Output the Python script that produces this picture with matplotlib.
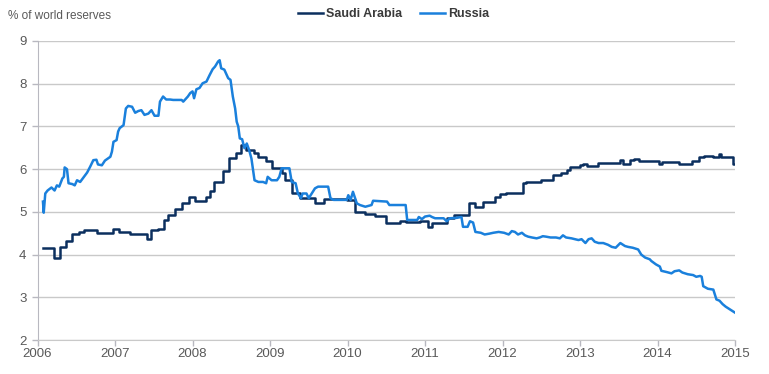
import numpy as np
import matplotlib
matplotlib.use('Agg')
import matplotlib.pyplot as plt

plt.rcParams['font.family'] = ['Liberation Sans', 'DejaVu Sans']

# Saudi Arabia, step changes (decimal year, % of world reserves)
saudi_t = [2006.07, 2006.21, 2006.29, 2006.37, 2006.45, 2006.53, 2006.60, 2006.77,
           2006.97, 2007.05, 2007.19, 2007.41, 2007.47, 2007.55, 2007.63, 2007.69,
           2007.77, 2007.87, 2007.96, 2008.03, 2008.18, 2008.22, 2008.28, 2008.39,
           2008.47, 2008.56, 2008.63, 2008.69, 2008.79, 2008.84, 2008.95, 2009.02,
           2009.15, 2009.19, 2009.29, 2009.39, 2009.58, 2009.70, 2009.99, 2010.10,
           2010.23, 2010.35, 2010.50, 2010.59, 2010.68, 2010.76, 2010.94, 2011.04,
           2011.09, 2011.28, 2011.38, 2011.57, 2011.65, 2011.75, 2011.90, 2011.97,
           2012.05, 2012.27, 2012.30, 2012.50, 2012.65, 2012.75, 2012.83, 2012.87,
           2013.00, 2013.04, 2013.09, 2013.23, 2013.51, 2013.55, 2013.65, 2013.70,
           2013.76, 2014.02, 2014.06, 2014.28, 2014.45, 2014.54, 2014.60, 2014.72,
           2014.79, 2014.82, 2014.97, 2015.01]
saudi_v = [4.15, 3.93, 4.18, 4.32, 4.48, 4.53, 4.57, 4.51,
           4.61, 4.53, 4.48, 4.36, 4.57, 4.61, 4.81, 4.92,
           5.07, 5.20, 5.35, 5.26, 5.35, 5.49, 5.70, 5.96,
           6.25, 6.38, 6.56, 6.45, 6.38, 6.29, 6.20, 6.02,
           5.92, 5.74, 5.43, 5.32, 5.20, 5.30, 5.28, 5.00,
           4.96, 4.91, 4.75, 4.73, 4.78, 4.76, 4.78, 4.65,
           4.73, 4.85, 4.92, 5.20, 5.12, 5.24, 5.35, 5.42,
           5.43, 5.67, 5.70, 5.74, 5.86, 5.90, 5.98, 6.05,
           6.10, 6.13, 6.07, 6.15, 6.22, 6.11, 6.22, 6.24,
           6.20, 6.11, 6.17, 6.13, 6.20, 6.29, 6.31, 6.29,
           6.36, 6.29, 6.13, 6.13]

# Russia
russia_t = [2006.07, 2006.08, 2006.10, 2006.13, 2006.18, 2006.22, 2006.25, 2006.28,
            2006.32, 2006.34, 2006.35, 2006.38, 2006.40, 2006.45, 2006.48, 2006.51,
            2006.55, 2006.60, 2006.64, 2006.68, 2006.72, 2006.76, 2006.78, 2006.83,
            2006.87, 2006.94, 2006.96, 2006.98, 2007.02, 2007.04, 2007.06, 2007.11,
            2007.14, 2007.17, 2007.22, 2007.26, 2007.30, 2007.34, 2007.38, 2007.43,
            2007.47, 2007.51, 2007.56, 2007.58, 2007.62, 2007.66, 2007.71, 2007.75,
            2007.86, 2007.88, 2007.94, 2007.97, 2008.00, 2008.02, 2008.05, 2008.09,
            2008.13, 2008.18, 2008.22, 2008.26, 2008.29, 2008.33, 2008.35, 2008.37,
            2008.41, 2008.46, 2008.49, 2008.52, 2008.55, 2008.57, 2008.59, 2008.61,
            2008.64, 2008.67, 2008.70, 2008.73, 2008.76, 2008.80, 2008.85, 2008.91,
            2008.95, 2008.97, 2009.02, 2009.09, 2009.12, 2009.15, 2009.25, 2009.28,
            2009.33, 2009.36, 2009.40, 2009.42, 2009.47, 2009.50, 2009.58, 2009.62,
            2009.75, 2009.78, 2009.82, 2009.99, 2010.01, 2010.04, 2010.07, 2010.12,
            2010.16, 2010.23, 2010.31, 2010.33, 2010.51, 2010.54, 2010.75, 2010.77,
            2010.90, 2010.92, 2010.96, 2011.00, 2011.06, 2011.09, 2011.13, 2011.24,
            2011.28, 2011.32, 2011.41, 2011.47, 2011.49, 2011.55, 2011.58, 2011.62,
            2011.65, 2011.72, 2011.77, 2011.83, 2011.88, 2011.95, 2012.02, 2012.08,
            2012.12, 2012.16, 2012.20, 2012.25, 2012.29, 2012.33, 2012.38, 2012.44,
            2012.48, 2012.52, 2012.56, 2012.62, 2012.69, 2012.74, 2012.78, 2012.82,
            2012.89, 2012.98, 2013.02, 2013.07, 2013.11, 2013.15, 2013.19, 2013.24,
            2013.30, 2013.36, 2013.41, 2013.46, 2013.52, 2013.58, 2013.62, 2013.68,
            2013.75, 2013.79, 2013.84, 2013.90, 2013.92, 2013.98, 2014.03, 2014.05,
            2014.12, 2014.18, 2014.22, 2014.28, 2014.32, 2014.39, 2014.46, 2014.50,
            2014.55, 2014.57, 2014.59, 2014.65, 2014.72, 2014.76, 2014.80, 2014.84,
            2014.88, 2014.95, 2015.00]
russia_v = [5.24, 4.98, 5.43, 5.50, 5.57, 5.50, 5.62, 5.59,
            5.78, 5.82, 6.04, 6.00, 5.67, 5.65, 5.62, 5.74,
            5.70, 5.82, 5.92, 6.06, 6.21, 6.22, 6.11, 6.09,
            6.20, 6.29, 6.41, 6.64, 6.68, 6.88, 6.96, 7.03,
            7.42, 7.48, 7.46, 7.32, 7.36, 7.38, 7.27, 7.30,
            7.38, 7.25, 7.25, 7.58, 7.70, 7.63, 7.63, 7.62,
            7.62, 7.58, 7.70, 7.78, 7.82, 7.66, 7.87, 7.90,
            8.01, 8.05, 8.20, 8.34, 8.40, 8.52, 8.55, 8.36,
            8.33, 8.13, 8.09, 7.70, 7.42, 7.11, 7.00, 6.72,
            6.70, 6.49, 6.60, 6.45, 6.25, 5.74, 5.70, 5.70,
            5.67, 5.82, 5.74, 5.74, 5.82, 6.02, 6.02, 5.70,
            5.67, 5.43, 5.32, 5.43, 5.43, 5.32, 5.55, 5.59,
            5.59, 5.32, 5.28, 5.28, 5.39, 5.28, 5.47, 5.20,
            5.16, 5.12, 5.16, 5.26, 5.24, 5.16, 5.16, 4.81,
            4.81, 4.88, 4.83, 4.89, 4.91, 4.88, 4.85, 4.85,
            4.78, 4.85, 4.86, 4.88, 4.65, 4.65, 4.78, 4.75,
            4.53, 4.51, 4.47, 4.49, 4.51, 4.53, 4.51, 4.47,
            4.55, 4.53, 4.47, 4.51, 4.45, 4.42, 4.40, 4.38,
            4.40, 4.43, 4.42, 4.40, 4.40, 4.38, 4.45, 4.40,
            4.38, 4.34, 4.36, 4.27, 4.36, 4.38, 4.30, 4.27,
            4.27, 4.23, 4.18, 4.16, 4.27, 4.20, 4.18, 4.16,
            4.12, 4.00, 3.93, 3.89, 3.85, 3.77, 3.72, 3.62,
            3.59, 3.56, 3.61, 3.63, 3.58, 3.54, 3.52, 3.48,
            3.50, 3.48, 3.26, 3.20, 3.18, 2.95, 2.92, 2.84,
            2.78, 2.70, 2.64]

years = list(range(2006, 2016))
yticks = list(range(2, 10))

fig = plt.figure(figsize=(7.69, 3.74), dpi=100)
ax = fig.add_axes([0.0488, 0.0909, 0.9070, 0.7995])

grid_c = '#C9C9C9'
txt_c = '#595959'

ax.plot(saudi_t, saudi_v, color='#0B2F5E', lw=1.8, drawstyle='steps-post',
        label='Saudi Arabia', zorder=3)
ax.plot(russia_t, russia_v, color='#1A80DC', lw=1.8, label='Russia', zorder=4)

ax.set_xlim(2006, 2015)
ax.set_ylim(2, 9)
ax.set_xticks(years)
ax.set_yticks(yticks)
ax.set_xticklabels([str(y) for y in years])
ax.yaxis.grid(True, color=grid_c, lw=1)
ax.set_axisbelow(True)
for s in ['top', 'right']:
    ax.spines[s].set_visible(False)
ax.spines['left'].set_color('#B8B8C0')
ax.spines['bottom'].set_color(grid_c)
ax.tick_params(axis='both', colors='#B8B8C0', labelcolor=txt_c, labelsize=9.5,
               length=4, width=1)
ax.tick_params(axis='y', pad=4)
ax.tick_params(axis='x', pad=2)

fig.text(0.010, 0.957, '% of world reserves', fontsize=8.5, color=txt_c,
         ha='left', va='center')

leg = fig.legend(loc='center', bbox_to_anchor=(0.512, 0.962), ncol=2, frameon=False,
                 fontsize=9, handlelength=2.0, handletextpad=0.25, columnspacing=1.4)
for t in leg.get_texts():
    t.set_color('#3A3A3A')
    t.set_fontweight('bold')

fig.savefig('out.png', dpi=100)
